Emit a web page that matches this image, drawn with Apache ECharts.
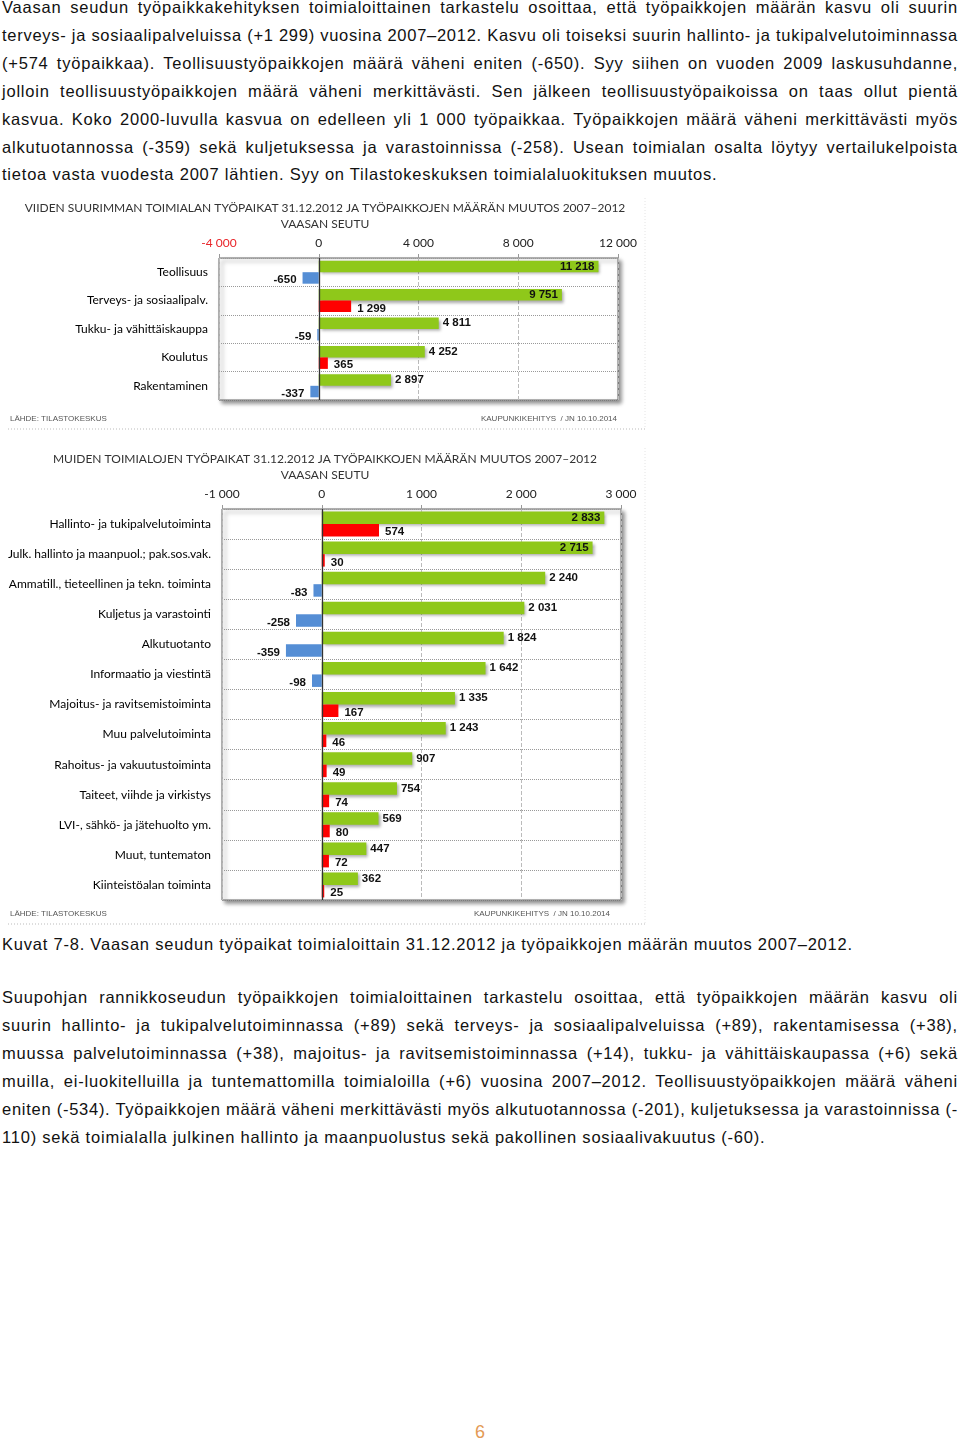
<!DOCTYPE html>
<html>
<head>
<meta charset="utf-8">
<script src="https://cdn.jsdelivr.net/npm/echarts@6/dist/echarts.min.js"></script>
<style>
  body { margin: 0; background: #fff; width: 960px; height: 1444px; position: relative; overflow: hidden;
         font-family: "Liberation Sans", Arial, sans-serif; color: #111; }
  .para { position: absolute; left: 2px; width: 956px; font-size: 16.5px; line-height: 27.9px; letter-spacing: 0.78px; }
  .para .j { text-align: justify; text-align-last: justify; }
  .para .l { text-align: left; white-space: nowrap; }
  .chart { position: absolute; left: 0; width: 650px; }
  #pageno { position: absolute; left: 0; width: 960px; top: 1422px; text-align: center; font-size: 18px; color: #e39a55; }
</style>
</head>
<body>

<div class="para" style="top:-6px">
<div class="j">Vaasan seudun työpaikkakehityksen toimialoittainen tarkastelu osoittaa, että työpaikkojen määrän kasvu oli suurin</div>
<div class="j">terveys- ja sosiaalipalveluissa (+1 299) vuosina 2007–2012. Kasvu oli toiseksi suurin hallinto- ja tukipalvelutoiminnassa</div>
<div class="j">(+574 työpaikkaa). Teollisuustyöpaikkojen määrä väheni eniten (-650). Syy siihen on vuoden 2009 laskusuhdanne,</div>
<div class="j">jolloin teollisuustyöpaikkojen määrä väheni merkittävästi. Sen jälkeen teollisuustyöpaikoissa on taas ollut pientä</div>
<div class="j">kasvua. Koko 2000-luvulla kasvua on edelleen yli 1 000 työpaikkaa. Työpaikkojen määrä väheni merkittävästi myös</div>
<div class="j">alkutuotannossa (-359) sekä kuljetuksessa ja varastoinnissa (-258). Usean toimialan osalta löytyy vertailukelpoista</div>
<div class="l">tietoa vasta vuodesta 2007 lähtien. Syy on Tilastokeskuksen toimialaluokituksen muutos.</div>
</div>

<div id="chart1" class="chart" style="top:193px;height:240px"></div>
<div id="chart2" class="chart" style="top:443px;height:487px"></div>

<div class="para" style="top:931px">
<div class="l">Kuvat 7-8. Vaasan seudun työpaikat toimialoittain 31.12.2012 ja työpaikkojen määrän muutos 2007–2012.</div>
</div>

<div class="para" style="top:984px">
<div class="j">Suupohjan rannikkoseudun työpaikkojen toimialoittainen tarkastelu osoittaa, että työpaikkojen määrän kasvu oli</div>
<div class="j">suurin hallinto- ja tukipalvelutoiminnassa (+89) sekä terveys- ja sosiaalipalveluissa (+89), rakentamisessa (+38),</div>
<div class="j">muussa palvelutoiminnassa (+38), majoitus- ja ravitsemistoiminnassa (+14), tukku- ja vähittäiskaupassa (+6) sekä</div>
<div class="j">muilla, ei-luokitelluilla ja tuntemattomilla toimialoilla (+6) vuosina 2007–2012. Teollisuustyöpaikkojen määrä väheni</div>
<div class="j">eniten (-534). Työpaikkojen määrä väheni merkittävästi myös alkutuotannossa (-201), kuljetuksessa ja varastoinnissa (-</div>
<div class="l">110) sekä toimialalla julkinen hallinto ja maanpuolustus sekä pakollinen sosiaalivakuutus (-60).</div>
</div>

<div id="pageno">6</div>

<script>
  // kuva 7: viisi suurinta toimialaa
  const cats1 = ['Teollisuus', 'Terveys- ja sosiaalipalv.', 'Tukku- ja vähittäiskauppa', 'Koulutus', 'Rakentaminen']
  const jobs1 = [11218, 9751, 4811, 4252, 2897]
  const change1 = [-650, 1299, -59, 365, -337]
  const axis1 = { min: -4000, max: 12000, interval: 4000 }

  // kuva 8: muut toimialat
  const cats2 = [
    'Hallinto- ja tukipalvelutoiminta',
    'Julk. hallinto ja maanpuol.; pak.sos.vak.',
    'Ammatill., tieteellinen ja tekn. toiminta',
    'Kuljetus ja varastointi',
    'Alkutuotanto',
    'Informaatio ja viestintä',
    'Majoitus- ja ravitsemistoiminta',
    'Muu palvelutoiminta',
    'Rahoitus- ja vakuutustoiminta',
    'Taiteet, viihde ja virkistys',
    'LVI-, sähkö- ja jätehuolto ym.',
    'Muut, tuntematon',
    'Kiinteistöalan toiminta'
  ]
  const jobs2 = [2833, 2715, 2240, 2031, 1824, 1642, 1335, 1243, 907, 754, 569, 447, 362]
  const change2 = [574, 30, -83, -258, -359, -98, 167, 46, 49, 74, 80, 72, 25]
  const axis2 = { min: -1000, max: 3000, interval: 1000 }

  const GREEN = '#8fc81a'
  const RED = '#ff0000'
  const BLUE = '#558ed5'

  // lines that are too long for the column get squeezed instead of wrapping
  const COL = 956
  document.querySelectorAll('.para .j').forEach(el => {
    el.style.whiteSpace = 'nowrap'
    el.style.textAlignLast = 'left'
    const r = document.createRange()
    r.selectNodeContents(el)
    const w = r.getBoundingClientRect().width
    if (w > COL) {
      const n = el.textContent.length
      el.style.letterSpacing = (0.78 - (w - COL) / (n - 1)) + 'px'
      el.style.textAlignLast = 'left'
    } else {
      el.style.whiteSpace = ''
      el.style.textAlignLast = ''
    }
  })

  const fmt = v => (v < 0 ? '-' : '') + String(Math.abs(v)).replace(/\B(?=(\d{3})+(?!\d))/g, ' ')

  function buildOption(o) {
    const labelFont = { fontFamily: 'Lato', fontSize: 12, color: '#000' }
    return {
      animation: false,
      title: [
        { text: o.title, left: 'center', top: o.titleTop,
          textStyle: { fontFamily: 'Lato', fontSize: 12, fontWeight: 'normal', color: '#333' } },
        { text: 'VAASAN SEUTU', left: 'center', top: o.titleTop + 16,
          textStyle: { fontFamily: 'Lato', fontSize: 12, fontWeight: 'normal', color: '#333' } }
      ],
      grid: {
        left: o.grid[0], top: o.grid[1], width: o.grid[2], height: o.grid[3],
        show: true, borderColor: '#666', borderWidth: 1, backgroundColor: '#fff',
        shadowColor: 'rgba(0,0,0,0.45)', shadowBlur: 4, shadowOffsetX: 3, shadowOffsetY: 3
      },
      xAxis: {
        type: 'value', position: 'top',
        min: o.axis.min, max: o.axis.max, interval: o.axis.interval,
        axisLine: { show: false },
        axisTick: { show: true, length: 4, lineStyle: { color: '#999' } },
        axisLabel: {
          margin: 9, ...labelFont, color: '#222',
          formatter: v => (v < 0 && o.redNeg) ? '{r|' + fmt(v) + '}' : fmt(v),
          rich: { r: { ...labelFont, color: '#e8252a' } }
        },
        splitLine: { lineStyle: { color: '#bbb', type: 'dashed' } }
      },
      yAxis: {
        type: 'category', inverse: true, data: o.cats,
        axisLine: { show: false }, axisTick: { show: false },
        axisLabel: { margin: 11, ...labelFont },
        splitLine: { show: true, lineStyle: { color: '#999', type: 'dotted' } }
      },
      series: [
        {
          name: 'Työpaikat 31.12.2012', type: 'bar', barWidth: o.barWidth, barGap: '0%',
          data: o.jobs.map(v => ({ value: v, label: { position: v > o.insideFrom ? 'insideRight' : 'right' } })),
          itemStyle: { color: GREEN, shadowColor: 'rgba(0,0,0,0.35)', shadowBlur: 3, shadowOffsetX: 2, shadowOffsetY: 2 },
          label: { show: true, formatter: p => fmt(p.value), fontFamily: 'Liberation Sans', fontWeight: 'bold',
                   fontSize: 11.5, color: '#111', distance: 4 },
          markLine: {
            silent: true, symbol: 'none', label: { show: false },
            lineStyle: { color: '#333', width: 1.3, type: 'solid' },
            data: [{ xAxis: 0 }]
          }
        },
        {
          name: 'Muutos 2007–2012', type: 'bar', barWidth: o.barWidth,
          data: o.change.map(v => ({
            value: v,
            itemStyle: { color: v < 0 ? BLUE : RED },
            label: { position: v < 0 ? 'left' : 'right' }
          })),
          label: { show: true, formatter: p => fmt(p.value), fontFamily: 'Liberation Sans', fontWeight: 'bold',
                   fontSize: 11.5, color: '#111', distance: 6, offset: [0, 2] }
        }
      ],
      graphic: [
        { type: 'text', left: 10, top: o.footY - 5,
          style: { text: 'LÄHDE: TILASTOKESKUS', fill: '#555', font: '8px "Liberation Sans"' } },
        { type: 'text', right: o.footRight, top: o.footY - 5,
          style: { text: 'KAUPUNKIKEHITYS  / JN 10.10.2014', fill: '#555', font: '8px "Liberation Sans"' } },
        { type: 'line', shape: { x1: 8, y1: o.footY + 9, x2: 645, y2: o.footY + 9 },
          style: { stroke: '#bbb', lineWidth: 1, lineDash: [1, 2] } },
        { type: 'line', shape: { x1: 645, y1: 5, x2: 645, y2: o.footY + 9 },
          style: { stroke: '#e4e4e4', lineWidth: 1, lineDash: [1, 2] } }
      ]
    }
  }

  const chart1 = echarts.init(document.getElementById('chart1'))
  chart1.setOption(buildOption({
    title: 'VIIDEN SUURIMMAN TOIMIALAN TYÖPAIKAT 31.12.2012 JA TYÖPAIKKOJEN MÄÄRÄN MUUTOS 2007–2012',
    titleTop: 4, cats: cats1, jobs: jobs1, change: change1, axis: axis1, redNeg: true,
    grid: [219, 65, 399, 142], barWidth: 11.5, insideFrom: 9000, footY: 227, footRight: 33
  }))

  const chart2 = echarts.init(document.getElementById('chart2'))
  chart2.setOption(buildOption({
    title: 'MUIDEN TOIMIALOJEN TYÖPAIKAT 31.12.2012 JA TYÖPAIKKOJEN MÄÄRÄN MUUTOS 2007–2012',
    titleTop: 5, cats: cats2, jobs: jobs2, change: change2, axis: axis2, redNeg: false,
    grid: [222, 66, 399, 391], barWidth: 12.5, insideFrom: 2500, footY: 472, footRight: 40
  }))
</script>
</body>
</html>
